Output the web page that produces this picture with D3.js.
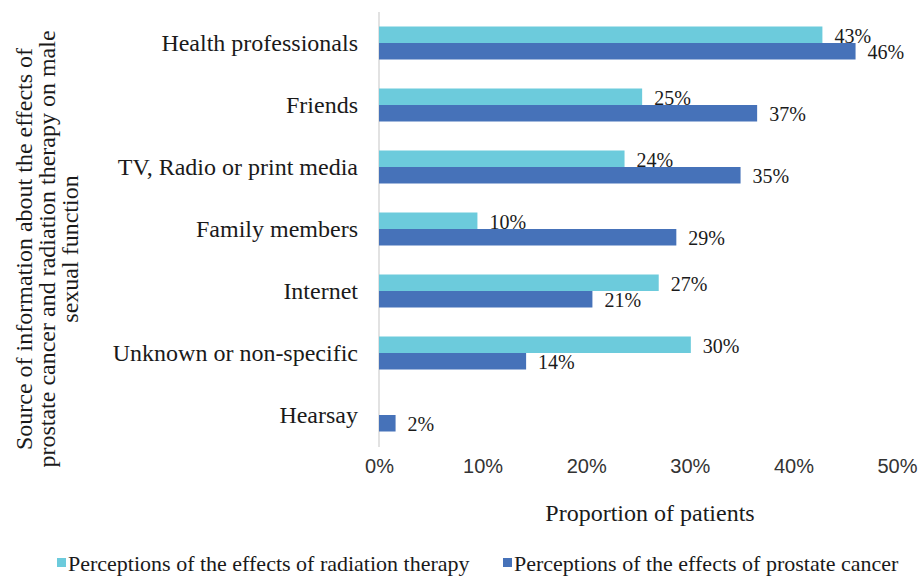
<!DOCTYPE html>
<html lang="en">
<head>
  <meta charset="UTF-8" />
  <title>Sources of information</title>
  <style>
    body {
      margin: 0;
      background: #fff;
    }
    svg {
      display: block;
      background: #fff;
    }
    .serif {
      font-family: "Liberation Serif", "Times New Roman", serif;
      fill: #1a1a1a;
    }
    .tick text {
      font-family: "Liberation Sans Narrow", "Arial Narrow", "Liberation Sans", sans-serif;
      font-size: 20px;
      fill: #333;
    }
  </style>
</head>
<body>
  <svg id="chart" width="923" height="581"></svg>

  <script src="https://d3js.org/d3.v7.min.js"></script>
  <script>
    // categories, top to bottom
    const categories = [
      "Health professionals",
      "Friends",
      "TV, Radio or print media",
      "Family members",
      "Internet",
      "Unknown or non-specific",
      "Hearsay"
    ];
    // proportion of patients (fractions)
    const radiationValues = [0.428, 0.254, 0.237, 0.095, 0.270, 0.301, null];
    const prostateValues = [0.460, 0.365, 0.349, 0.287, 0.206, 0.142, 0.016];
    const xTicks = [0, 0.1, 0.2, 0.3, 0.4, 0.5];
    const seriesNames = [
      "Perceptions of the effects of radiation therapy",
      "Perceptions of the effects of prostate cancer"
    ];
    const colors = ["#6ccbdc", "#4672b9"];

    const svg = d3.select("#chart");

    const x = d3.scaleLinear().domain([0, 0.5]).range([379, 897]);
    const y = d3.scaleBand().domain(categories).range([12, 446]);
    const sub = d3.scaleBand().domain([0, 1]).range([0, 33]);
    const bandOffset = (y.bandwidth() - 33) / 2;

    // y axis line
    svg.append("line")
      .attr("x1", x(0)).attr("x2", x(0))
      .attr("y1", 12).attr("y2", 447)
      .attr("stroke", "#d9d9d9")
      .attr("stroke-width", 1.5);

    // x axis tick labels (no line)
    const xAxis = svg.append("g")
      .attr("transform", "translate(0,459)")
      .call(d3.axisBottom(x).tickValues(xTicks).tickFormat(d3.format(".0%")).tickSize(0));
    xAxis.select(".domain").remove();
    xAxis.selectAll("text").attr("dy", "0.71em").attr("y", 0);

    // category labels
    svg.append("g").selectAll("text")
      .data(categories)
      .join("text")
      .attr("class", "serif")
      .attr("x", 358)
      .attr("y", d => y(d) + y.bandwidth() / 2)
      .attr("dy", "0.33em")
      .style("font-size", "24px")
      .attr("text-anchor", "end")
      .text(d => d);

    const series = [radiationValues, prostateValues];
    const fmt = d3.format(".0%");

    series.forEach((vals, si) => {
      const data = categories.map((c, i) => ({ cat: c, v: vals[i] })).filter(d => d.v != null);

      svg.append("g").selectAll("rect")
        .data(data)
        .join("rect")
        .attr("x", x(0))
        .attr("y", d => y(d.cat) + bandOffset + sub(si))
        .attr("width", d => x(d.v) - x(0))
        .attr("height", sub.bandwidth())
        .attr("fill", colors[si]);

      svg.append("g").selectAll("text")
        .data(data)
        .join("text")
        .attr("class", "serif")
        .attr("x", d => x(d.v) + 12)
        .attr("y", d => y(d.cat) + bandOffset + sub(si) + sub.bandwidth() / 2 + 1)
        .attr("dy", "0.35em")
        .style("font-size", "20px")
        .text(d => fmt(d.v));
    });

    // x axis title
    svg.append("text")
      .attr("class", "serif")
      .attr("x", 650)
      .attr("y", 521)
      .attr("text-anchor", "middle")
      .style("font-size", "24px")
      .text("Proportion of patients");

    // y axis title, three lines
    const yTitle = [
      "Source of information about the effects of",
      "prostate cancer and radiation therapy on male",
      "sexual function"
    ];
    svg.append("g")
      .attr("transform", "translate(32,249) rotate(-90)")
      .selectAll("text")
      .data(yTitle)
      .join("text")
      .attr("class", "serif")
      .attr("x", 0)
      .attr("y", (d, i) => i * 23)
      .attr("text-anchor", "middle")
      .style("font-size", "24px")
      .text(d => d);

    // legend
    const legendX = [57, 503];
    const legend = svg.append("g").selectAll("g")
      .data(seriesNames)
      .join("g")
      .attr("transform", (d, i) => `translate(${legendX[i]},563)`);
    legend.append("rect")
      .attr("x", 0).attr("y", -5)
      .attr("width", 9).attr("height", 9)
      .attr("fill", (d, i) => colors[i]);
    legend.append("text")
      .attr("class", "serif")
      .attr("x", 11)
      .attr("dy", "0.35em")
      .style("font-size", "22px")
      .text(d => d);
  </script>
</body>
</html>
